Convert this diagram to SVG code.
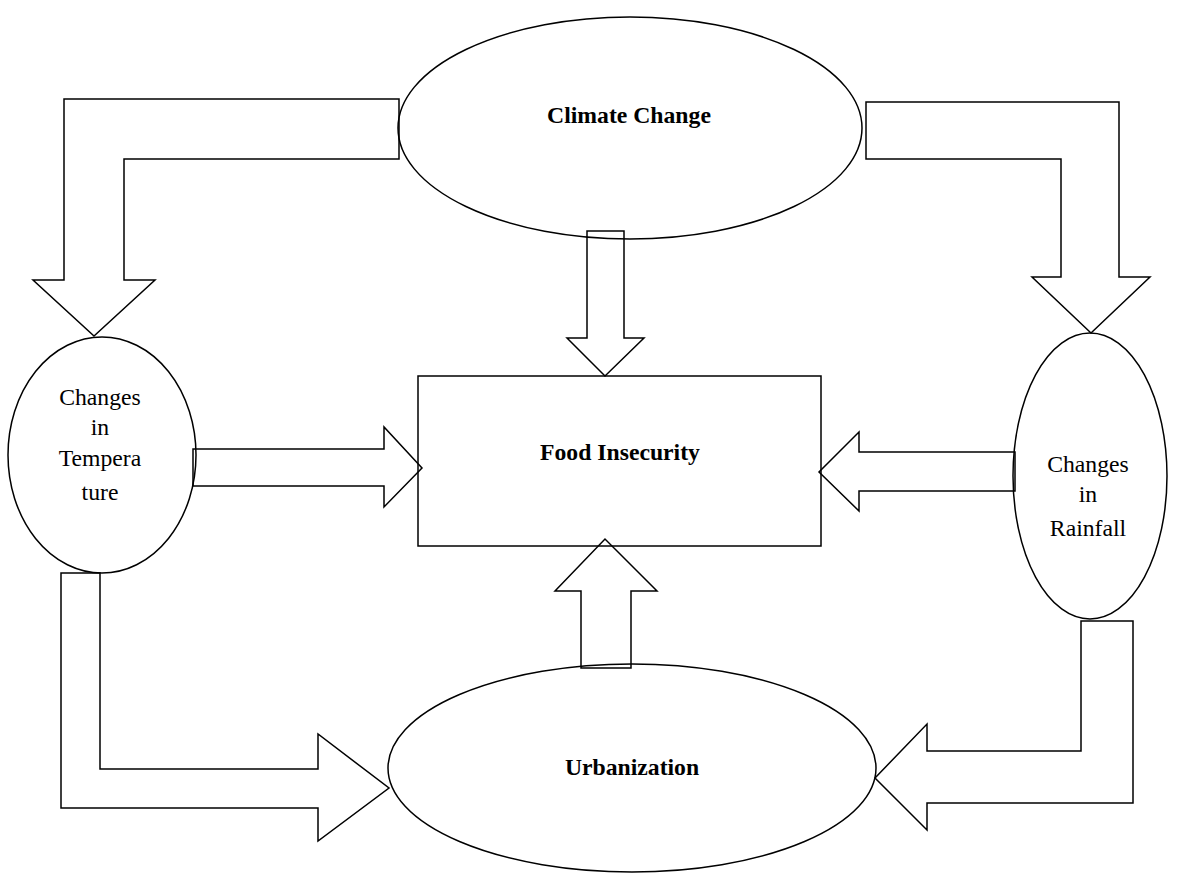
<svg xmlns="http://www.w3.org/2000/svg" width="1195" height="887" viewBox="0 0 1195 887">
<style>
.s{fill:#fff;stroke:#000;stroke-width:1.5}
.b{font-family:"Liberation Serif","Times New Roman",serif;font-size:23.7px;font-weight:bold;text-anchor:middle;fill:#000}
.r{font-family:"Liberation Serif","Times New Roman",serif;font-size:23.7px;text-anchor:middle;fill:#000}
</style>
<rect width="1195" height="887" fill="#fff"/>
<g id="connectors">
<polygon class="s" points="399,99 64,99 64,280 33,280 94,336 155,280 124,280 124,159 399,159"/>
<polygon class="s" points="866,102 1119,102 1119,277 1150,277 1091,333 1032,277 1061,277 1061,159 866,159"/>
<polygon class="s" points="587,231 624,231 624,338 644,338 605,376 567,338 587,338"/>
<polygon class="s" points="193,449 384,449 384,427 422,468 384,507 384,486 193,486"/>
<polygon class="s" points="1015,452 859,452 859,432 819,472 859,511 859,491 1015,491"/>
<polygon class="s" points="581,668 581,591 555,591 605,539 657,591 631,591 631,668"/>
<polygon class="s" points="61,573 100,573 100,769 318,769 318,734 389,788 318,841 318,808 61,808"/>
<polygon class="s" points="1081,621 1133,621 1133,803 927,803 927,830 875,778 927,724 927,751 1081,751"/>
</g>
<g id="climate">
<ellipse class="s" cx="630" cy="128" rx="232" ry="111" style="fill:none"/>
<text class="b" x="629" y="123">Climate Change</text>
</g>
<g id="food">
<rect class="s" x="418" y="376" width="403" height="170" style="fill:none"/>
<text class="b" x="620" y="460">Food Insecurity</text>
</g>
<g id="temperature">
<ellipse class="s" cx="102" cy="455" rx="94" ry="118" style="fill:none"/>
<text class="r" x="100" y="405">Changes</text>
<text class="r" x="100" y="435">in</text>
<text class="r" x="100" y="466">Tempera</text>
<text class="r" x="100" y="500">ture</text>
</g>
<g id="rainfall">
<ellipse class="s" cx="1090" cy="476" rx="77" ry="143" style="fill:none"/>
<text class="r" x="1088" y="472">Changes</text>
<text class="r" x="1088" y="502">in</text>
<text class="r" x="1088" y="536">Rainfall</text>
</g>
<g id="urbanization">
<ellipse class="s" cx="632" cy="768" rx="244" ry="104" style="fill:none"/>
<text class="b" x="632" y="775">Urbanization</text>
</g>
</svg>
